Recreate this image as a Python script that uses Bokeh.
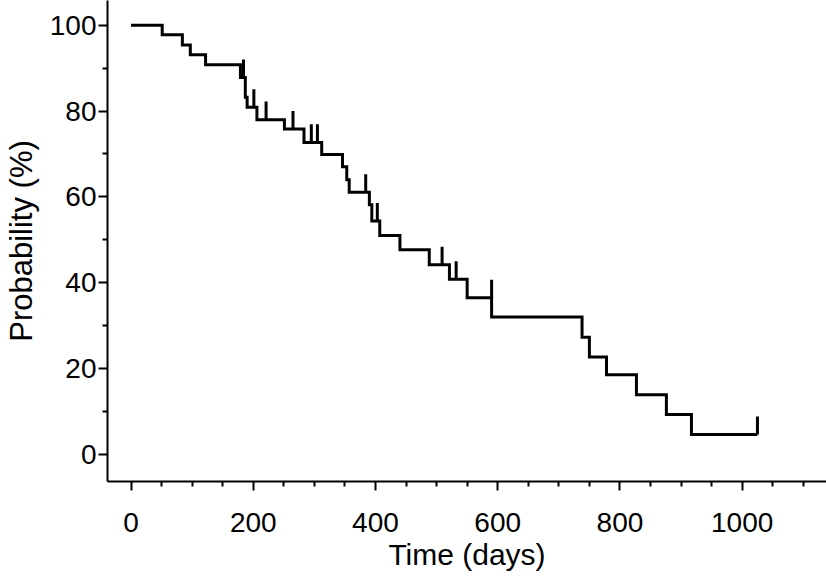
from bokeh.plotting import figure
from bokeh.models import FixedTicker, Range1d
from bokeh.embed import file_html
from bokeh.resources import INLINE

# ---- data (Kaplan-Meier curve) ----
step_days = [0, 51, 84, 97, 122, 179, 187, 190, 206, 251, 283, 312, 346, 353, 357,
             390, 394, 407, 440, 488, 521, 550, 590, 738, 750, 778, 827, 876, 917, 1025]
step_pct = [100, 97.8, 95.4, 93.1, 90.8, 87.8, 83.2, 80.9, 78.0, 75.8, 72.7, 69.9, 67.0, 64.0, 61.1,
            58.2, 54.4, 51.0, 47.7, 44.2, 40.8, 36.5, 32.0, 27.3, 22.7, 18.6, 13.9, 9.3, 4.66, 4.66]
censor_days = [184, 201, 221, 265, 295, 305, 384, 403, 509, 532, 590, 1025]
censor_pct = [87.8, 80.9, 78.0, 75.8, 72.7, 72.7, 61.1, 54.4, 44.2, 40.8, 36.5, 4.66]

x_major = [0, 200, 400, 600, 800, 1000]
x_minor = [50, 100, 150, 250, 300, 350, 450, 500, 550, 650, 700, 750, 850, 900, 950, 1050, 1100]
y_major = [0, 20, 40, 60, 80, 100]
y_minor = [10, 30, 50, 70, 90]

CENSOR_H = 4.2  # height of censor tick marks (style)

FONT = "Liberation Sans"

p = figure(width=826, height=576, output_backend="svg", toolbar_location=None,
           x_range=Range1d(-38.5, 1138), y_range=Range1d(-6.29, 105.75),
           min_border_left=107, min_border_right=0, min_border_top=0, min_border_bottom=95,
           x_axis_label="Time (days)", y_axis_label="Probability (%)")

p.outline_line_color = None
p.xgrid.grid_line_color = None
p.ygrid.grid_line_color = None
p.background_fill_color = "white"
p.border_fill_color = "white"

p.step(step_days, step_pct, mode="after", line_width=3, line_color="black", line_join="miter")
p.segment(x0=censor_days, y0=censor_pct, x1=censor_days,
          y1=[c + CENSOR_H for c in censor_pct], line_width=3, line_color="black")

p.xaxis.ticker = FixedTicker(ticks=x_major, minor_ticks=x_minor)
p.yaxis.ticker = FixedTicker(ticks=y_major, minor_ticks=y_minor)

for ax in (p.xaxis[0], p.yaxis[0]):
    ax.axis_line_width = 2
    ax.axis_line_color = "black"
    ax.major_tick_line_width = 2
    ax.minor_tick_line_width = 2
    ax.major_tick_line_color = "black"
    ax.minor_tick_line_color = "black"
    ax.major_tick_in = 0
    ax.major_tick_out = 9
    ax.minor_tick_in = 0
    ax.minor_tick_out = 5
    ax.major_label_text_font = FONT
    ax.major_label_text_font_size = "28px"
    ax.major_label_text_color = "black"
    ax.axis_label_text_font = FONT
    ax.axis_label_text_font_style = "normal"
    ax.axis_label_text_color = "black"

p.xaxis.axis_label_text_font_size = "30px"
p.yaxis.axis_label_text_font_size = "31px"
p.xaxis.major_label_standoff = 22
p.xaxis.axis_label_standoff = 3
p.yaxis.major_label_standoff = 2
p.yaxis.axis_label_standoff = 8

open("out.html", "w").write(file_html(p, INLINE))
